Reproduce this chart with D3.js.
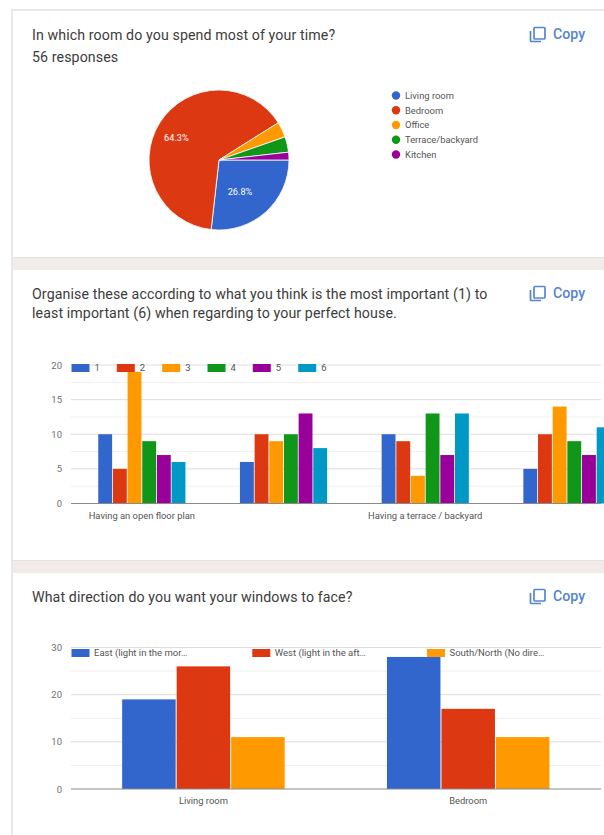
<!DOCTYPE html>
<html>
<head>
<meta charset="utf-8">
<script src="https://cdnjs.cloudflare.com/ajax/libs/d3/7.8.5/d3.min.js"></script>
<style>
html,body{margin:0;padding:0;background:#fff;overflow:hidden}
svg{display:block}
text{font-family:Roboto,Arial,sans-serif}
</style>
</head>
<body>
<svg id="page" width="604" height="835"></svg>
<script>
// Survey answers
const roomNames = ["Living room", "Bedroom", "Office", "Terrace/backyard", "Kitchen"];
const roomCounts = [15, 36, 2, 2, 1];
const roomLabels = ["26.8%", "64.3%", "", "", ""];
const roomColors = ["#3366cc", "#dc3912", "#ff9900", "#109618", "#990099"];

const rankSeries = ["1", "2", "3", "4", "5", "6"];
const rankColors = ["#3366cc", "#dc3912", "#ff9900", "#109618", "#990099", "#0099c6"];
const rankCategories = ["Having an open floor plan", "Having a large kitchen", "Having a terrace / backyard", "Having many windows"];
const rankTickLabels = ["Having an open floor plan", "Having a terrace / backyard"];
const rankValues = [
  [10, 5, 19, 9, 7, 6],
  [6, 10, 9, 10, 13, 8],
  [10, 9, 4, 13, 7, 13],
  [5, 10, 14, 9, 7, 11]
];
const rankTicks = [0, 5, 10, 15, 20];
const rankMinorTicks = [2.5, 7.5, 12.5, 17.5];

const windowSeries = ["East (light in the mor…", "West (light in the aft…", "South/North (No dire…"];
const windowColors = ["#3366cc", "#dc3912", "#ff9900"];
const windowCategories = ["Living room", "Bedroom"];
const windowValues = [
  [19, 26, 11],
  [28, 17, 11]
];
const windowTicks = [0, 10, 20, 30];
const windowMinorTicks = [5, 15, 25];

const svg = d3.select("#page");
const W = 604, H = 835;
const INK = "#3c3c3c", AXIS_TEXT = "#6f6f6f", LEGEND_TEXT = "#555";

// Page background and the three response cards
const BAND = "#f1ebe9", RULE = "#e8e8e8";
svg.append("rect").attr("width", W).attr("height", H).attr("fill", "#fff");
svg.append("rect").attr("x", 13).attr("y", 257).attr("width", W - 13).attr("height", 13).attr("fill", BAND);
svg.append("rect").attr("x", 13).attr("y", 560).attr("width", W - 13).attr("height", 13).attr("fill", BAND);
svg.append("rect").attr("x", 11).attr("y", 9).attr("width", W - 11).attr("height", 2).attr("fill", RULE);
svg.append("rect").attr("x", 11).attr("y", 9).attr("width", 2).attr("height", H - 9).attr("fill", RULE);
svg.append("rect").attr("x", 13).attr("y", 257).attr("width", W - 13).attr("height", 1).attr("fill", "#e4e2e1");
svg.append("rect").attr("x", 13).attr("y", 560).attr("width", W - 13).attr("height", 1).attr("fill", "#e4e2e1");

function title(lines, ys) {
  lines.forEach((t, i) => svg.append("text")
    .attr("x", 32).attr("y", ys[i])
    .attr("font-size", 14.2).attr("letter-spacing", 0.1)
    .attr("fill", INK).text(t));
}

// The "Copy" control at the top right of each card
function copyButton(cy) {
  const g = svg.append("g").attr("transform", `translate(529,${cy})`)
    .attr("fill", "none").attr("stroke", "#5585d0").attr("stroke-width", 1.7);
  g.append("rect").attr("x", 5).attr("y", -6.5).attr("width", 11).attr("height", 11.5).attr("rx", 1);
  g.append("path").attr("d", "M1.5,-3 V6.5 a1,1 0 0 0 1,1 H12");
  svg.append("text").attr("x", 553).attr("y", cy + 5)
    .attr("font-size", 14.2).attr("font-weight", 500).attr("fill", "#5585d0").text("Copy");
}

title(["In which room do you spend most of your time?", "56 responses"], [40, 62]);
title(["Organise these according to what you think is the most important (1) to", "least important (6) when regarding to your perfect house."], [299, 318]);
title(["What direction do you want your windows to face?"], [602]);
copyButton(34);
copyButton(293);
copyButton(596);

// Pie chart: the first slice starts at three o'clock and runs clockwise
const pieCx = 219, pieCy = 160, pieR = 70;
const pieGen = d3.pie().sort(null).startAngle(Math.PI / 2).endAngle(Math.PI / 2 + 2 * Math.PI);
const arcGen = d3.arc().innerRadius(0).outerRadius(pieR);
const labelArc = d3.arc().innerRadius(pieR * 0.6).outerRadius(pieR * 0.6);
const pieG = svg.append("g").attr("transform", `translate(${pieCx},${pieCy})`);
const slices = pieGen(roomCounts);
pieG.selectAll("path").data(slices).join("path")
  .attr("d", arcGen)
  .attr("fill", (d, i) => roomColors[i])
  .attr("stroke", "#fff").attr("stroke-width", 0.8);
pieG.selectAll("text").data(slices).join("text")
  .attr("transform", d => `translate(${labelArc.centroid(d)})`)
  .attr("x", -7)
  .attr("text-anchor", "middle").attr("dy", "0.35em")
  .attr("font-size", 9.2).attr("fill", "#fff")
  .text((d, i) => roomLabels[i]);

const pieLegendY = d3.scalePoint().domain(roomNames).range([95.5, 154.5]);
const pieLegend = svg.append("g").selectAll("g").data(roomNames).join("g")
  .attr("transform", d => `translate(396,${pieLegendY(d)})`);
pieLegend.append("circle").attr("r", 4.2).attr("fill", (d, i) => roomColors[i]);
pieLegend.append("text").attr("x", 9).attr("dy", "0.35em")
  .attr("font-size", 9.4).attr("fill", LEGEND_TEXT).text(d => d);

// Grouped column chart shared by the two lower cards
function columns(o) {
  const x = d3.scaleBand().domain(o.categories).range([71, 71 + o.step * o.categories.length]);
  const y = d3.scaleLinear().domain([0, o.max]).range([o.y0, o.yTop]);
  const inner = d3.scaleBand().domain(o.series).range([x(o.categories[0]) + x.bandwidth() / 2 - o.groupW / 2,
    x(o.categories[0]) + x.bandwidth() / 2 + o.groupW / 2]);
  const g = svg.append("g");
  const gridRight = 601;

  g.selectAll("line.minor").data(o.minorTicks).join("line").attr("class", "minor")
    .attr("x1", 71).attr("x2", gridRight).attr("y1", y).attr("y2", y)
    .attr("stroke", "#f0f0f0").attr("stroke-width", 1);
  g.selectAll("line.major").data(o.ticks.filter(t => t > 0)).join("line").attr("class", "major")
    .attr("x1", 71).attr("x2", gridRight).attr("y1", y).attr("y2", y)
    .attr("stroke", "#dedede").attr("stroke-width", 1);

  const offset = x(o.categories[0]);
  const groups = g.selectAll("g.group").data(o.values).join("g").attr("class", "group")
    .attr("transform", (d, i) => `translate(${x(o.categories[i]) - offset},0)`);
  groups.selectAll("rect").data(d => d).join("rect")
    .attr("x", (d, i) => inner(o.series[i]) + o.gap / 2)
    .attr("width", inner.bandwidth() - o.gap)
    .attr("y", d => y(d))
    .attr("height", d => y(0) - y(d))
    .attr("fill", (d, i) => o.colors[i]);

  g.append("line").attr("x1", 71).attr("x2", gridRight).attr("y1", y(0)).attr("y2", y(0))
    .attr("stroke", "#8a8a8a").attr("stroke-width", 1);

  // Value axis labels
  const axisY = d3.axisLeft(y).tickValues(o.ticks).tickSize(0).tickPadding(0);
  const yAxis = g.append("g").attr("transform", "translate(62,0)").call(axisY);
  yAxis.select(".domain").remove();
  yAxis.selectAll("text").attr("font-family", "Roboto,Arial,sans-serif")
    .attr("font-size", 9.5).attr("fill", AXIS_TEXT);

  // Category labels: long names leave some of them out
  const axisX = d3.axisBottom(x).tickValues(o.tickLabels).tickSize(0).tickPadding(0);
  const xAxis = g.append("g").attr("transform", `translate(0,${o.y0 + 8.5})`).call(axisX);
  xAxis.select(".domain").remove();
  xAxis.selectAll("text").attr("font-family", "Roboto,Arial,sans-serif")
    .attr("font-size", 9.4).attr("fill", LEGEND_TEXT);

  // Legend row across the top of the plot
  o.series.forEach((s, i) => {
    const lg = g.append("g").attr("transform", `translate(${o.legendX[i]},${o.legendY})`);
    lg.append("rect").attr("y", -4).attr("width", 18).attr("height", 8).attr("fill", o.colors[i]);
    lg.append("text").attr("x", o.legendTextX).attr("dy", "0.35em")
      .attr("font-size", 9.5).attr("fill", LEGEND_TEXT).text(s);
  });
}

columns({
  categories: rankCategories, tickLabels: rankTickLabels, series: rankSeries,
  values: rankValues, colors: rankColors, ticks: rankTicks, minorTicks: rankMinorTicks,
  max: 20, y0: 503.5, yTop: 365, step: 141.7, groupW: 88, gap: 0.8,
  legendX: [71.5, 116.8, 162.2, 207.5, 252.8, 298.2], legendY: 368,
  legendTextX: 23
});

columns({
  categories: windowCategories, tickLabels: windowCategories, series: windowSeries,
  values: windowValues, colors: windowColors, ticks: windowTicks, minorTicks: windowMinorTicks,
  max: 30, y0: 789, yTop: 647.5, step: 264.8, groupW: 163.5, gap: 1,
  legendX: [71.5, 252.3, 427], legendY: 653,
  legendTextX: 22.5
});
</script>
</body>
</html>
